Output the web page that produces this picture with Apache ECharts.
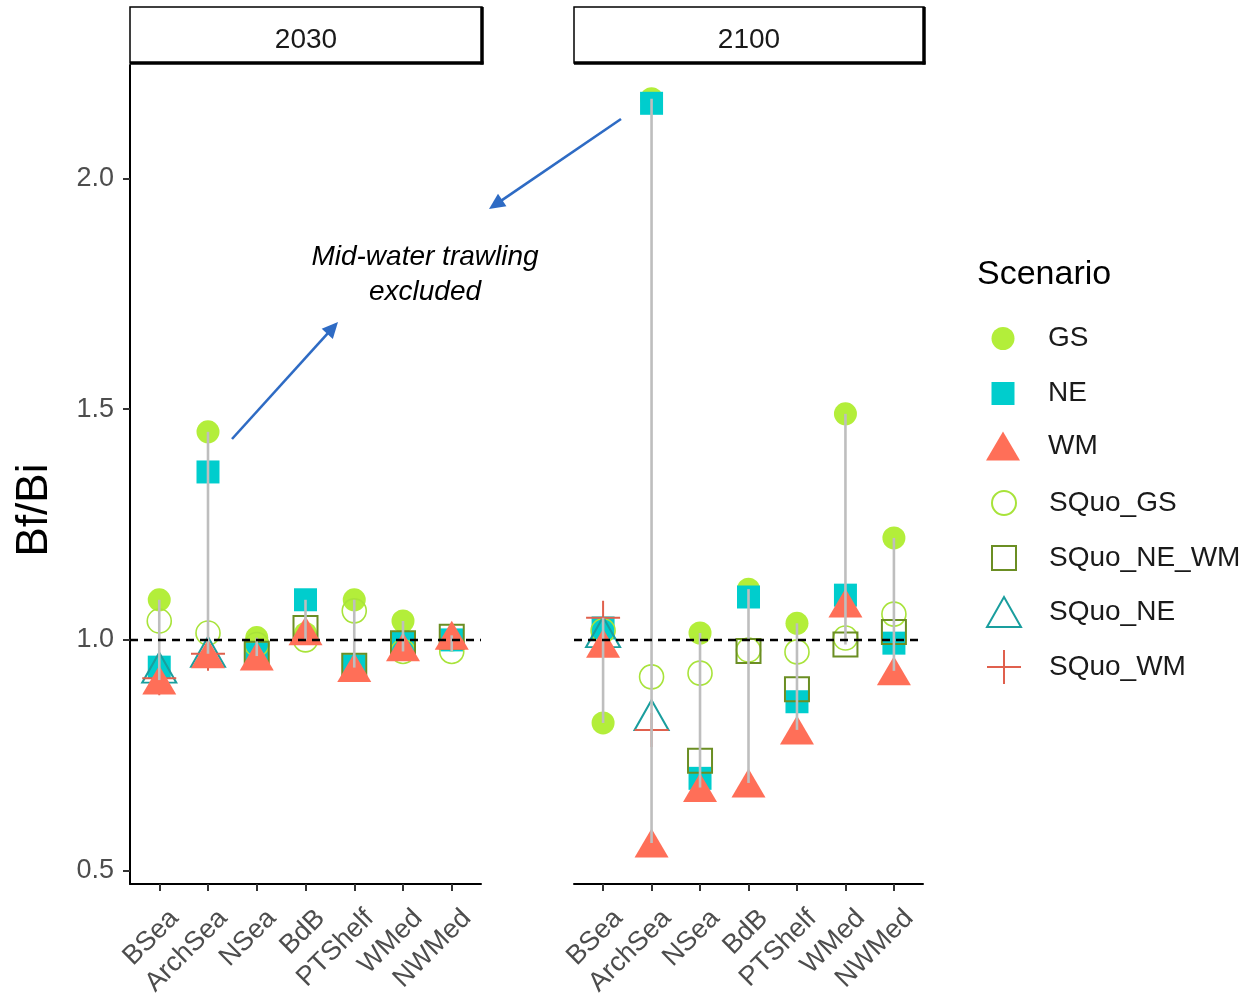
<!DOCTYPE html>
<html><head><meta charset="utf-8">
<script src="https://cdn.jsdelivr.net/npm/echarts@6/dist/echarts.min.js"></script>
<style>html,body{margin:0;padding:0;background:#fff}#c{width:1246px;height:994px}</style>
</head><body><div id="c"></div>
<script>
// ---- data ----
const regions = ['BSea','ArchSea','NSea','BdB','PTShelf','WMed','NWMed'];
const years = ['2030','2100'];
const scenarios = ['GS','NE','WM','SQuo_GS','SQuo_NE_WM','SQuo_NE','SQuo_WM'];
const yTicks = [0.5, 1.0, 1.5, 2.0];

const GS_2030         = [1.087, 1.451, 1.005, 1.014, 1.087, 1.041, 1.000];
const NE_2030         = [0.941, 1.364, 0.970, 1.087, 0.944, 0.993, 1.000];
const WM_2030         = [0.913, 0.970, 0.965, 1.020, 0.940, 0.985, 1.010];
const SQuo_GS_2030    = [1.041, 1.015, 0.990, 1.000, 1.063, 0.975, 0.975];
const SQuo_NE_WM_2030 = [null, null, 0.970, 1.026, 0.944, 0.993, 1.007];
const SQuo_NE_2030    = [0.940, 0.974, null, null, null, null, null];
const SQuo_WM_2030    = [0.917, 0.970, null, null, null, null, null];

const GS_2100         = [0.820, 2.173, 1.015, 1.110, 1.036, 1.490, 1.221];
const NE_2100         = [1.026, 2.163, 0.700, 1.093, 0.866, 1.097, 0.993];
const WM_2100         = [0.993, 0.560, 0.680, 0.690, 0.805, 1.080, 0.933];
const SQuo_GS_2100    = [1.020, 0.920, 0.928, 0.978, 0.974, 1.004, 1.056];
const SQuo_NE_WM_2100 = [null, null, 0.738, 0.976, 0.893, 0.990, 1.017];
const SQuo_NE_2100    = [1.017, 0.837, null, null, null, null, null];
const SQuo_WM_2100    = [1.048, 0.805, null, null, null, null, null];

const table = {
  '2030': {GS:GS_2030, NE:NE_2030, WM:WM_2030, SQuo_GS:SQuo_GS_2030, SQuo_NE_WM:SQuo_NE_WM_2030, SQuo_NE:SQuo_NE_2030, SQuo_WM:SQuo_WM_2030},
  '2100': {GS:GS_2100, NE:NE_2100, WM:WM_2100, SQuo_GS:SQuo_GS_2100, SQuo_NE_WM:SQuo_NE_WM_2100, SQuo_NE:SQuo_NE_2100, SQuo_WM:SQuo_WM_2100}
};

// ---- styles ----
const FONT = 'Liberation Sans, Arial, sans-serif';
const clear = 'rgba(255,255,255,0)';
const styleMap = {
  GS:         {symbol:'circle',   size:[23,23], itemStyle:{color:'#B3EE3A', opacity:1}},
  NE:         {symbol:'rect',     size:[23,23], itemStyle:{color:'#00CDCD', opacity:1}},
  WM:         {symbol:'triangle', size:[34,29], itemStyle:{color:'#FF6F58', opacity:1}},
  SQuo_GS:    {symbol:'circle',   size:[24,24], itemStyle:{color:clear, borderColor:'#A8E33A', borderWidth:1.6, opacity:1}},
  SQuo_NE_WM: {symbol:'rect',     size:[24,24], itemStyle:{color:clear, borderColor:'#6B8E23', borderWidth:2, opacity:1}},
  SQuo_NE:    {symbol:'triangle', size:[34,30], itemStyle:{color:clear, borderColor:'#1A9E9E', borderWidth:2, opacity:1}},
  SQuo_WM:    {symbol:'path://M10,0L10,20M0,10L20,10', size:[34,34], itemStyle:{color:clear, borderColor:'#E0604D', borderWidth:2, opacity:1}}
};
const drawOrder = ['GS','NE','SQuo_GS','SQuo_NE_WM','SQuo_NE','SQuo_WM','WM'];

const series = [];
years.forEach((yr, gi) => {
  drawOrder.forEach((sc, k) => {
    const st = styleMap[sc];
    const vals = table[yr][sc];
    const s = {
      name: sc, type: 'scatter', xAxisIndex: gi, yAxisIndex: gi,
      symbol: st.symbol, symbolSize: st.size, symbolKeepAspect: false,
      itemStyle: st.itemStyle, z: 2 + k * 0.01,
      emphasis: {disabled: true},
      data: vals.map((v, i) => v == null ? null : [i, v]).filter(d => d)
    };
    if (k === 0) {
      s.markLine = {
        silent: true, symbol: 'none', label: {show: false}, animation: false,
        lineStyle: {type: [8, 6], color: '#000', width: 2.3, opacity: 1},
        data: [{yAxis: 1}]
      };
    }
    series.push(s);
  });
  // grey min-max segments
  const segData = regions.map((r, i) => {
    const vs = scenarios.map(sc => table[yr][sc][i]).filter(v => v != null);
    return [i, Math.min(...vs), Math.max(...vs)];
  });
  series.push({
    type: 'custom', xAxisIndex: gi, yAxisIndex: gi, z: 4, silent: true,
    data: segData,
    renderItem: (params, api) => {
      const p1 = api.coord([api.value(0), api.value(1)]);
      const p2 = api.coord([api.value(0), api.value(2)]);
      return {type: 'line', shape: {x1: p1[0], y1: p1[1], x2: p2[0], y2: p2[1]},
              style: {stroke: '#BEBEBE', lineWidth: 2.6}};
    }
  });
});

const xIdx = regions.map((r, i) => i);
function xAxis(gi) {
  return {
    type: 'value', gridIndex: gi, min: -0.6, max: 6.6,
    splitLine: {show: false},
    axisLine: {show: true, lineStyle: {color: '#000', width: 2}},
    axisTick: {show: true, customValues: xIdx, length: 7, lineStyle: {color: '#333', width: 2}},
    axisLabel: {show: true, customValues: xIdx, formatter: v => regions[Math.round(v)],
      rotate: 45, verticalAlign: 'top', margin: 15, padding: [8, 0, 0, 0],
      fontSize: 27, color: '#4D4D4D', fontFamily: FONT}
  };
}
function yAxis(gi) {
  const show = gi === 0;
  return {
    type: 'value', gridIndex: gi, min: 0.471, max: 2.246,
    splitLine: {show: false},
    axisLine: {show: show, onZero: false, lineStyle: {color: '#000', width: 2}},
    axisTick: {show: show, customValues: yTicks, length: 7, lineStyle: {color: '#333', width: 2}},
    axisLabel: {show: show, customValues: yTicks, formatter: v => v.toFixed(1),
      margin: 16, fontSize: 27, color: '#4D4D4D', fontFamily: FONT}
  };
}

// legends: one component per entry for exact icon sizes
const legendRowY = [336, 391, 446, 501, 556, 611, 666];
const legendIconX = 1003, legendTextX = 1048;
const legends = scenarios.map((sc, i) => {
  const [w, h] = styleMap[sc].size;
  const left = legendIconX - w / 2;
  return {
    orient: 'vertical', left: left, top: legendRowY[i] - h / 2, padding: 0,
    itemWidth: w, itemHeight: h, symbolKeepAspect: false, selectedMode: false,
    data: [sc],
    textStyle: {fontSize: 28, color: '#1A1A1A', fontFamily: FONT,
      padding: [0, 0, 0, legendTextX - (left + w + 5)]}
  };
});

// annotations
const AC = '#2E6BC4';
function arrow(x1, y1, x2, y2) {
  const dx = x2 - x1, dy = y2 - y1, L = Math.hypot(dx, dy), ux = dx / L, uy = dy / L;
  const hl = 16, hw = 7.5;
  const bx = x2 - ux * hl, by = y2 - uy * hl;
  return [
    {type: 'line', shape: {x1, y1, x2: bx + ux * 2, y2: by + uy * 2}, style: {stroke: AC, lineWidth: 2.6}},
    {type: 'polygon', shape: {points: [[x2, y2], [bx - uy * hw, by + ux * hw], [bx + uy * hw, by - ux * hw]]}, style: {fill: AC}}
  ];
}
function strip(x, w, label) {
  return [
    {type: 'rect', shape: {x: x, y: 7, width: w, height: 56}, style: {fill: '#fff', stroke: '#000', lineWidth: 1.5}},
    {type: 'line', shape: {x1: x + w, y1: 7, x2: x + w, y2: 64.5}, style: {stroke: '#000', lineWidth: 3.5}},
    {type: 'line', shape: {x1: x, y1: 63, x2: x + w + 1.5, y2: 63}, style: {stroke: '#000', lineWidth: 3.5}},
    {type: 'text', x: x + w / 2, y: 40, style: {text: label, fontSize: 28, fill: '#1A1A1A', fontFamily: FONT, align: 'center', verticalAlign: 'middle'}}
  ];
}
const graphics = [].concat(
  strip(130, 352, years[0]),
  strip(574, 350, years[1]),
  [
    {type: 'text', x: 35, y: 510, rotation: Math.PI / 2,
     style: {text: 'Bf/Bi', fontSize: 44, fill: '#000', fontFamily: FONT, align: 'center', verticalAlign: 'middle'}},
    {type: 'text', x: 977, y: 275,
     style: {text: 'Scenario', fontSize: 34, fill: '#000', fontFamily: FONT, align: 'left', verticalAlign: 'middle'}},
    {type: 'text', x: 425, y: 257,
     style: {text: 'Mid-water trawling', fontSize: 28, fontStyle: 'italic', fill: '#000', fontFamily: FONT, align: 'center', verticalAlign: 'middle'}},
    {type: 'text', x: 425, y: 292,
     style: {text: 'excluded', fontSize: 28, fontStyle: 'italic', fill: '#000', fontFamily: FONT, align: 'center', verticalAlign: 'middle'}}
  ],
  arrow(232, 439, 338, 322),
  arrow(621, 119, 489, 209)
);

const chart = echarts.init(document.getElementById('c'), null, {renderer: 'canvas'});
chart.setOption({
  animation: false,
  backgroundColor: '#fff',
  textStyle: {fontFamily: FONT},
  grid: [
    {left: 130, top: 65, width: 351, height: 819, containLabel: false, outerBoundsMode: 'none'},
    {left: 574, top: 65, width: 349, height: 819, containLabel: false, outerBoundsMode: 'none'}
  ],
  xAxis: [xAxis(0), xAxis(1)],
  yAxis: [yAxis(0), yAxis(1)],
  legend: legends,
  series: series,
  graphic: graphics
});
</script></body></html>
